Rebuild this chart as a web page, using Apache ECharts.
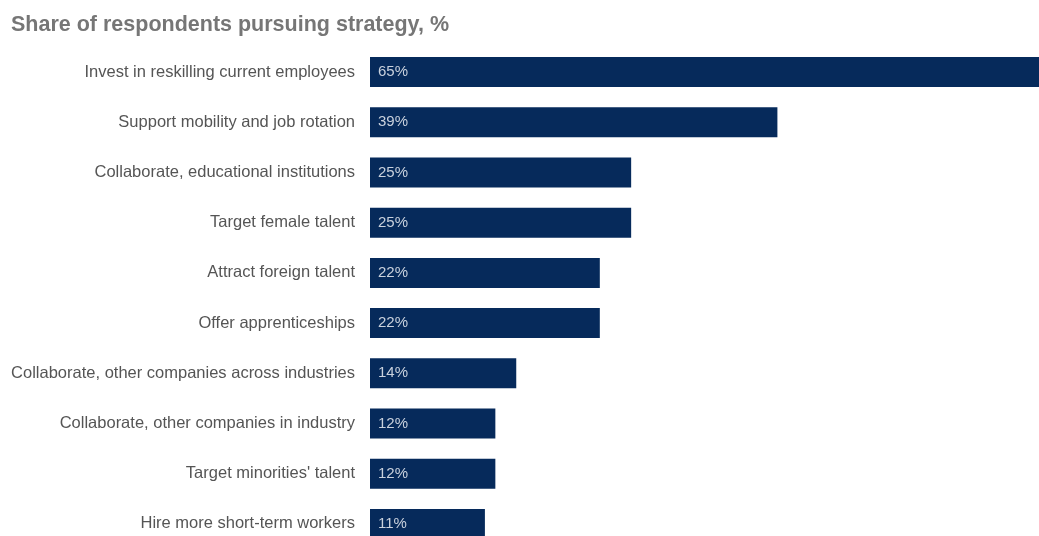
<!DOCTYPE html>
<html>
<head>
<meta charset="utf-8">
<script src="https://cdn.jsdelivr.net/npm/echarts@6/dist/echarts.min.js"></script>
<style>
  html, body { margin: 0; padding: 0; background: #fff; overflow: hidden; }
  /* canvas runs past the window so the longest bar and the last row run off the edge */
  #chart { width: 1060px; height: 560px; }
</style>
</head>
<body>
<div id="chart"></div>
<script>
// Strategies, top to bottom
const categories = [
  'Invest in reskilling current employees',
  'Support mobility and job rotation',
  'Collaborate, educational institutions',
  'Target female talent',
  'Attract foreign talent',
  'Offer apprenticeships',
  'Collaborate, other companies across industries',
  'Collaborate, other companies in industry',
  "Target minorities' talent",
  'Hire more short-term workers'
];
// Share of respondents, %
const shares = [65, 39, 25, 25, 22, 22, 14, 12, 12, 11];

const chart = echarts.init(document.getElementById('chart'));
chart.setOption({
  animation: false,
  title: {
    text: 'Share of respondents pursuing strategy, %',
    left: 6,
    top: 9,
    textStyle: {
      fontFamily: 'Liberation Sans, Arial, sans-serif',
      fontSize: 21.5,
      fontWeight: 'bold',
      color: '#767676'
    }
  },
  grid: { left: 370, top: 47, width: 679, height: 502, containLabel: false },
  xAxis: {
    type: 'value',
    min: 0,
    max: 65,
    show: false
  },
  yAxis: {
    type: 'category',
    data: categories,
    inverse: true,
    axisLine: { show: false },
    axisTick: { show: false },
    splitLine: { show: false },
    axisLabel: {
      margin: 15,
      fontFamily: 'Liberation Sans, Arial, sans-serif',
      fontSize: 16.5,
      color: '#555555'
    }
  },
  series: [{
    type: 'bar',
    data: shares,
    barWidth: 30,
    itemStyle: { color: '#062a5b' },
    label: {
      show: true,
      position: 'insideLeft',
      distance: 8,
      formatter: '{c}%',
      fontFamily: 'Liberation Sans, Arial, sans-serif',
      fontSize: 15,
      color: '#c9d1dd'
    }
  }]
});
</script>
</body>
</html>
